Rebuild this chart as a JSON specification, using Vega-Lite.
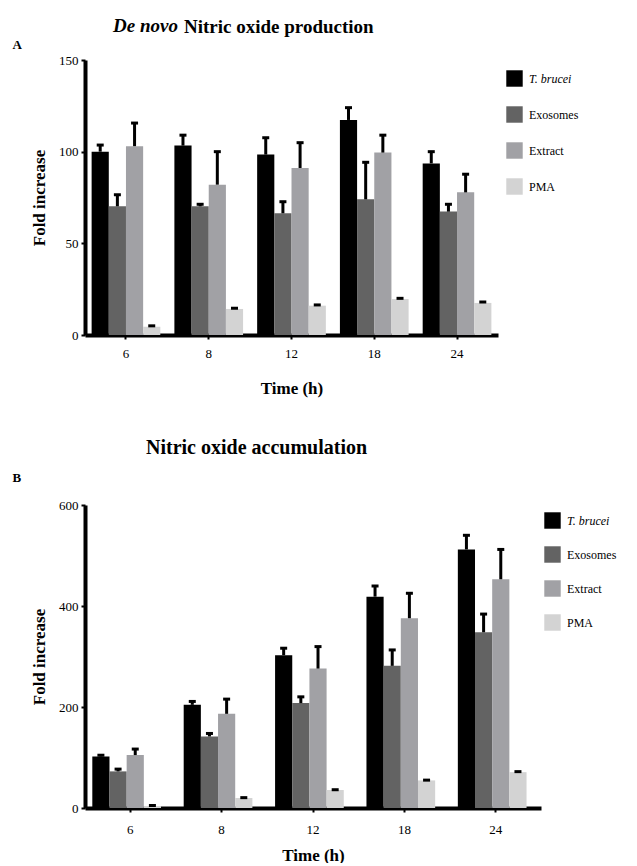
{
  "$schema": "https://vega.github.io/schema/vega-lite/v6.json",
  "background": "white",
  "padding": {"left": 12, "top": 17, "right": 5, "bottom": 0},
  "datasets": {
    "nitric": [
      {"panel": "A", "time": "6", "group": "T. brucei", "value": 100, "upper": 103.6},
      {"panel": "A", "time": "6", "group": "Exosomes", "value": 70.2, "upper": 76.5},
      {"panel": "A", "time": "6", "group": "Extract", "value": 103, "upper": 115.6},
      {"panel": "A", "time": "6", "group": "PMA", "value": 4.5, "upper": 5},
      {"panel": "A", "time": "8", "group": "T. brucei", "value": 103.3, "upper": 109},
      {"panel": "A", "time": "8", "group": "Exosomes", "value": 70.2, "upper": 71.3},
      {"panel": "A", "time": "8", "group": "Extract", "value": 82, "upper": 100},
      {"panel": "A", "time": "8", "group": "PMA", "value": 14.2, "upper": 14.6},
      {"panel": "A", "time": "12", "group": "T. brucei", "value": 98.4, "upper": 107.6},
      {"panel": "A", "time": "12", "group": "Exosomes", "value": 66.4, "upper": 72.7},
      {"panel": "A", "time": "12", "group": "Extract", "value": 91.1, "upper": 104.9},
      {"panel": "A", "time": "12", "group": "PMA", "value": 16, "upper": 16.4},
      {"panel": "A", "time": "18", "group": "T. brucei", "value": 117.3, "upper": 124},
      {"panel": "A", "time": "18", "group": "Exosomes", "value": 74, "upper": 94.2},
      {"panel": "A", "time": "18", "group": "Extract", "value": 99.5, "upper": 109},
      {"panel": "A", "time": "18", "group": "PMA", "value": 19.6, "upper": 20},
      {"panel": "A", "time": "24", "group": "T. brucei", "value": 93.6, "upper": 100},
      {"panel": "A", "time": "24", "group": "Exosomes", "value": 67.3, "upper": 71.3},
      {"panel": "A", "time": "24", "group": "Extract", "value": 77.8, "upper": 87.7},
      {"panel": "A", "time": "24", "group": "PMA", "value": 17.5, "upper": 18},
      {"panel": "B", "time": "6", "group": "T. brucei", "value": 102, "upper": 104.5},
      {"panel": "B", "time": "6", "group": "Exosomes", "value": 72.5, "upper": 77},
      {"panel": "B", "time": "6", "group": "Extract", "value": 104.8, "upper": 116.7},
      {"panel": "B", "time": "6", "group": "PMA", "value": 4, "upper": 5},
      {"panel": "B", "time": "8", "group": "T. brucei", "value": 204.3, "upper": 211},
      {"panel": "B", "time": "8", "group": "Exosomes", "value": 141.7, "upper": 147.6},
      {"panel": "B", "time": "8", "group": "Extract", "value": 186.5, "upper": 215.6},
      {"panel": "B", "time": "8", "group": "PMA", "value": 19.8, "upper": 20.5},
      {"panel": "B", "time": "12", "group": "T. brucei", "value": 302.6, "upper": 316.4},
      {"panel": "B", "time": "12", "group": "Exosomes", "value": 207.7, "upper": 220.1},
      {"panel": "B", "time": "12", "group": "Extract", "value": 276.1, "upper": 319.6},
      {"panel": "B", "time": "12", "group": "PMA", "value": 35.6, "upper": 36.2},
      {"panel": "B", "time": "18", "group": "T. brucei", "value": 418.5, "upper": 439.6},
      {"panel": "B", "time": "18", "group": "Exosomes", "value": 281.5, "upper": 313},
      {"panel": "B", "time": "18", "group": "Extract", "value": 375.8, "upper": 425.2},
      {"panel": "B", "time": "18", "group": "PMA", "value": 54.6, "upper": 55.2},
      {"panel": "B", "time": "24", "group": "T. brucei", "value": 512, "upper": 540},
      {"panel": "B", "time": "24", "group": "Exosomes", "value": 348, "upper": 384},
      {"panel": "B", "time": "24", "group": "Extract", "value": 453, "upper": 512},
      {"panel": "B", "time": "24", "group": "PMA", "value": 71, "upper": 72}
    ]
  },
  "config": {
    "view": {"stroke": null},
    "font": "Liberation Serif",
    "axis": {
      "domainColor": "black", "domainWidth": 4, "tickColor": "black", "tickWidth": 2, "tickSize": 4,
      "labelFont": "Liberation Serif", "labelFontSize": 13, "labelColor": "black",
      "titleFont": "Liberation Serif", "titleFontSize": 17, "titleFontWeight": "bold", "titleColor": "black",
      "grid": false
    },
    "legend": {
      "labelFont": "Liberation Serif", "labelFontSize": 12, "labelColor": "black",
      "symbolType": "square", "symbolSize": 270, "symbolStrokeWidth": 0, "symbolOpacity": 1,
      "labelOffset": 6
    },
    "title": {"font": "Liberation Serif", "color": "black", "fontWeight": "bold"}
  },
  "spacing": 42,
  "resolve": {"scale": {"color": "independent", "x": "independent", "y": "independent"}, "legend": {"color": "independent"}},
  "vconcat": [
    {
      "title": {
        "text": "De novo",
        "fontSize": 19, "fontStyle": "italic", "fontWeight": "bold",
        "anchor": "start", "frame": "group", "dx": 28, "dy": 18, "offset": 0
      },
      "resolve": {"scale": {"color": "independent"}, "legend": {"color": "independent"}},
      "vconcat": [
        {
          "title": {
            "text": "Nitric oxide production",
            "fontSize": 19, "fontWeight": "bold",
            "anchor": "start", "frame": "group", "dx": 99, "dy": 2
          },
          "resolve": {"scale": {"color": "independent"}, "legend": {"color": "independent"}},
          "vconcat": [
            {
              "title": {"text": "A", "anchor": "start", "frame": "bounds", "fontSize": 13, "dx": -18, "offset": 2},
              "width": 413, "height": 275,
              "data": {"name": "nitric"},
              "transform": [{"filter": "datum.panel === 'A'"}],
              "encoding": {
                "x": {"field": "time", "type": "ordinal", "sort": ["6", "8", "12", "18", "24"],
                      "scale": {"paddingInner": 0.17, "paddingOuter": 0.08},
                      "axis": {"title": "Time (h)", "labelAngle": 0, "labelPadding": 8, "titlePadding": 20}},
                "xOffset": {"field": "group", "type": "nominal", "sort": ["T. brucei", "Exosomes", "Extract", "PMA"]}
              },
              "layer": [
                {
                  "mark": {"type": "bar"},
                  "encoding": {
                    "y": {"field": "value", "type": "quantitative", "scale": {"domain": [0, 150], "nice": false},
                          "axis": {"title": "Fold increase", "values": [0, 50, 100, 150], "titlePadding": 10, "labelPadding": 3}},
                    "color": {"field": "group", "type": "nominal",
                              "scale": {"domain": ["T. brucei", "Exosomes", "Extract", "PMA"], "range": ["#000000", "#636363", "#a1a1a5", "#d3d3d3"]},
                              "legend": {"title": null, "offset": -2, "padding": 10, "rowPadding": 19,
                                         "encode": {"labels": {"update": {"fontStyle": {"signal": "datum.value === 'T. brucei' ? 'italic' : 'normal'"}}}}}}
                  }
                },
                {
                  "mark": {"type": "rule", "color": "black", "strokeWidth": 3},
                  "encoding": {
                    "y": {"field": "value", "type": "quantitative"},
                    "y2": {"field": "upper"}
                  }
                },
                {
                  "mark": {"type": "tick", "color": "black", "thickness": 3, "size": 7, "opacity": 1},
                  "encoding": {
                    "y": {"field": "upper", "type": "quantitative"}
                  }
                }
              ]
            }
          ]
        }
      ]
    },
    {
      "title": {"text": "Nitric oxide accumulation", "fontSize": 20, "anchor": "start", "frame": "group", "dx": 61, "offset": 14},
      "resolve": {"scale": {"color": "independent"}, "legend": {"color": "independent"}},
      "vconcat": [
        {
          "title": {"text": "B", "anchor": "start", "frame": "bounds", "fontSize": 13, "dx": -18, "offset": 14},
          "width": 456, "height": 303,
          "data": {"name": "nitric"},
          "transform": [{"filter": "datum.panel === 'B'"}],
          "encoding": {
            "x": {"field": "time", "type": "ordinal", "sort": ["6", "8", "12", "18", "24"],
                  "scale": {"paddingInner": 0.17, "paddingOuter": 0.08},
                  "axis": {"title": "Time (h)", "labelAngle": 0, "labelPadding": 11, "titlePadding": 11}},
            "xOffset": {"field": "group", "type": "nominal", "sort": ["T. brucei", "Exosomes", "Extract", "PMA"]}
          },
          "layer": [
            {
              "mark": {"type": "bar"},
              "encoding": {
                "y": {"field": "value", "type": "quantitative", "scale": {"domain": [0, 600], "nice": false},
                      "axis": {"title": "Fold increase", "values": [0, 200, 400, 600], "titlePadding": 10, "labelPadding": 3}},
                "color": {"field": "group", "type": "nominal",
                          "scale": {"domain": ["T. brucei", "Exosomes", "Extract", "PMA"], "range": ["#000000", "#636363", "#a1a1a5", "#d3d3d3"]},
                          "legend": {"title": null, "offset": -4, "padding": 7, "rowPadding": 17,
                                     "encode": {"labels": {"update": {"fontStyle": {"signal": "datum.value === 'T. brucei' ? 'italic' : 'normal'"}}}}}}
              }
            },
            {
              "mark": {"type": "rule", "color": "black", "strokeWidth": 3},
              "encoding": {
                "y": {"field": "value", "type": "quantitative"},
                "y2": {"field": "upper"}
              }
            },
            {
              "mark": {"type": "tick", "color": "black", "thickness": 3, "size": 7, "opacity": 1},
              "encoding": {
                "y": {"field": "upper", "type": "quantitative"}
              }
            }
          ]
        }
      ]
    }
  ]
}
